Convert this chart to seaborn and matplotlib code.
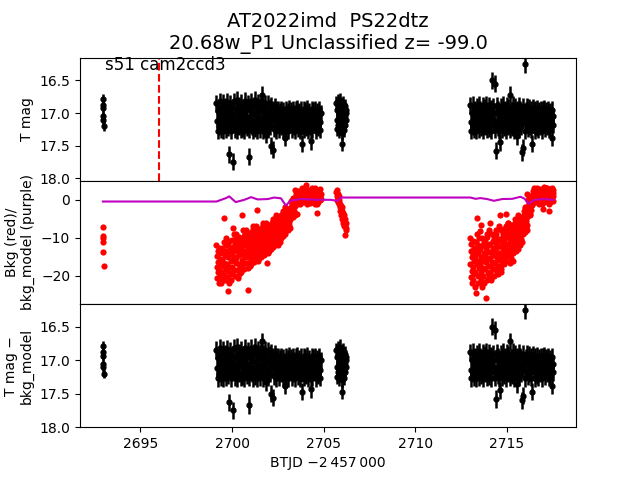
import numpy as np
import pandas as pd
import matplotlib
matplotlib.use("Agg")
import matplotlib.pyplot as plt
import seaborn as sns

# light curve segments: (start, end) of each stretch of cadences, BTJD - 2457000
seg_a = (2692.93, 2692.99)
seg_b = (2699.15, 2704.85)
seg_c = (2705.70, 2706.25)
seg_d = (2713.00, 2717.55)

# T mag
mag_a = [16.78, 16.88, 16.93, 17.05, 17.10, 17.20]
mag_b = [16.85, 17.12, 17.27, 16.97, 17.20, 16.82, 17.05, 17.25, 16.92, 17.14,
         17.27, 16.84, 17.00, 17.18, 16.90, 17.26, 17.08, 16.83, 17.22, 16.98,
         17.12, 17.63, 16.86, 17.27, 17.02, 16.93, 17.18, 17.75, 16.82, 17.10,
         17.25, 16.95, 17.15, 16.80, 17.27, 17.04, 16.88, 17.20, 16.97, 17.26,
         16.84, 17.10, 17.24, 16.92, 17.02, 17.27, 16.81, 17.16, 16.96, 17.23,
         17.06, 16.86, 17.67, 17.26, 16.94, 17.12, 16.82, 17.20, 17.00, 17.27,
         16.88, 17.14, 16.80, 17.24, 17.02, 16.92, 17.27, 17.08, 16.84, 17.18,
         16.96, 17.25, 16.82, 16.72, 17.10, 17.27, 16.90, 17.04, 17.22, 16.85,
         17.33, 16.98, 17.15, 16.86, 17.26, 17.04, 16.92, 17.20, 16.88, 17.50,
         17.10, 16.95, 17.56, 17.24, 16.90, 17.06, 17.27, 16.94, 17.15, 17.02,
         16.95, 17.26, 17.10, 16.98, 17.20, 16.94, 17.05, 17.27, 16.96, 17.16,
         17.02, 17.38, 16.94, 17.22, 17.08, 16.97, 17.27, 17.12, 16.93, 17.18,
         17.04, 16.96, 17.25, 17.10, 16.94, 17.20, 17.00, 17.27, 16.95, 17.14,
         17.06, 16.93, 17.24, 17.16, 16.97, 17.27, 17.02, 16.95, 17.20, 17.47,
         17.08, 16.94, 17.26, 17.12, 16.96, 17.22, 17.04, 16.93, 17.27, 17.15,
         16.98, 17.20, 17.06, 17.43, 16.94, 17.25, 17.10, 16.96, 17.18, 17.02,
         16.95, 17.27, 17.12, 16.97, 17.22, 17.05, 16.94, 17.26, 17.14, 17.00]
mag_c = [16.85, 17.10, 17.25, 16.95, 17.18, 16.82, 17.05, 17.28, 16.90, 17.15,
         17.00, 16.80, 17.22, 17.08, 16.88, 17.30, 17.47, 17.02, 16.92, 17.20,
         16.85, 17.12, 17.26, 16.96, 17.05, 16.90, 17.18, 17.00, 16.95, 17.10]
mag_d = [16.88, 17.14, 17.27, 17.00, 17.20, 16.87, 17.06, 17.26, 16.94, 17.12,
         17.27, 16.90, 17.02, 17.18, 16.87, 17.25, 17.08, 16.95, 17.22, 16.98,
         17.13, 16.88, 17.27, 17.04, 16.92, 17.20, 16.87, 17.10, 17.26, 16.98,
         17.15, 16.88, 17.24, 17.02, 16.93, 17.27, 17.08, 16.50, 16.90, 17.18,
         17.00, 16.55, 17.26, 17.58, 16.88, 17.12, 17.22, 16.95, 17.05, 17.27,
         17.45, 16.90, 17.16, 17.00, 17.26, 16.87, 17.10, 17.22, 16.95, 17.04,
         17.27, 16.88, 17.14, 17.20, 16.92, 17.02, 17.26, 16.72, 17.08, 16.96,
         17.22, 16.87, 17.12, 17.27, 17.00, 16.90, 17.18, 17.05, 16.94, 17.36,
         17.10, 16.88, 17.25, 17.02, 16.95, 17.20, 17.12, 17.60, 17.53, 16.90,
         17.06, 17.27, 16.25, 16.96, 17.16, 16.90, 17.24, 17.02, 16.92, 17.20,
         17.10, 16.94, 17.26, 17.04, 17.47, 16.92, 17.18, 17.00, 17.27, 16.95,
         17.14, 17.22, 16.93, 17.06, 17.26, 16.96, 17.12, 17.20, 16.94, 17.02,
         17.27, 16.95, 17.16, 17.08, 16.93, 17.24, 17.00, 16.96, 17.20, 17.12,
         16.94, 17.26, 17.04, 16.97, 17.22, 17.10, 17.38, 16.95, 17.18, 17.05]
err_a, err_b, err_c, err_d = 0.07, 0.13, 0.11, 0.13

# background flux (red points)
bkg_a = [-7.2, -9.6, -10.1, -11.0, -13.8, -17.3]
bkg_b = [-12, -17.7, -14.9, -20.6, -13.4, -19.1, -16.3, -22,
         -12.7, -18.4, -15.6, -21.3, -14.1, -19.9, -17.0, -13.0,
         -22, -15.7, -18.9, -12.6, -20.4, -14.1, -17.3, -4.8,
         -11.0, -16.5, -19.7, -13.4, -21.2, -14.9, -18.1, -11.8,
         -10, -16.9, -13.4, -20.3, -11.7, -18.6, -15.1, -24.1,
         -22, -10.9, -17.8, -14.3, -21.1, -12.6, -19.4, -16.0,
         -21, -14.1, -17.6, -10.7, -19.3, -12.4, -15.9, -7.4,
         -9, -15.0, -18.4, -11.6, -20.1, -13.3, -16.7, -9.9,
         -9, -15.3, -12.1, -18.4, -10.6, -20.5, -13.7, -20,
         -16.9, -9.8, -14.5, -11.4, -19.2, -12.9, -17.6, -10.2,
         -19, -12.7, -15.9, -4.0, -17.4, -11.1, -14.3, -8,
         -9.6, -18.2, -13.5, -16.6, -8.8, -12.0, -15.1, -10.3,
         -8, -13.7, -10.9, -16.6, -9.4, -23.7, -12.3, -18,
         -15.1, -8.7, -14.4, -11.6, -17.3, -10.1, -13.0, -16.0,
         -17, -11.3, -14.1, -8.4, -15.6, -9.9, -12.7, -7,
         -7.7, -16.3, -10.6, -13.4, -8.9, -14.9, -12.0, -15.9,
         -7, -12.1, -9.6, -14.7, -2.8, -13.4, -10.9, -16,
         -8.3, -15.3, -11.5, -7.6, -14.0, -10.2, -12.8, -8.9,
         -15, -9.9, -12.4, -7.3, -13.7, -8.6, -11.1, -6,
         -6.6, -14.4, -10.5, -13.0, -7.9, -11.8, -9.2, -14.0,
         -6, -10.6, -8.3, -12.9, -7.1, -16.7, -9.4, -14,
         -11.7, -6.6, -13.4, -8.9, -12.3, -7.7, -10.0, -11.1,
         -13, -8.4, -10.7, -6.1, -11.9, -7.3, -9.6, -5,
         -5.6, -12.4, -9.0, -11.3, -6.7, -10.2, -7.9, -12.0,
         -4, -8.6, -6.3, -10.9, -5.1, -9.7, -7.4, -12,
         -4.6, -11.4, -8.0, -10.3, -5.7, -9.1, -6.9, -11.0,
         -10, -6, -8, -4, -9, -5, -7, -3,
         -3.5, -9.5, -6.5, -8.5, -4.5, -7.5, -5.5, -9.0,
         -2, -5.4, -3.7, -7.1, -2.9, -6.3, -4.6, -8,
         -2.4, -7.6, -4.2, -6.7, -3.3, -5.8, -5.0, -7.4,
         -5, -1.9, -3.4, -0.3, -4.2, -1.1, -2.6, 0.5,
         0.1, -4.6, -2.2, -3.8, -0.7, -3.0, -1.5, -4.0,
         2.5, 0.5, 1.5, -0.5, 2.0, 0, -3.7, -1,
         2.2, -0.7, 1.2, 0.2, 1.8, -0.2, 0.8, 1.0,
         -1, 1.3, 0.1, 2.4, -0.4, 1.9, 0.7, 3,
         2.7, -0.7, 1.6, 0.4, 2.1, -0.1, 1.0, 2.9,
         3, 0.7, 1.9, -0.4, 3.9, 0.1, 1.3, -1,
         -0.7, 2.7, 0.4, 2.2, -0.1, 1.6, 1.0, 2.4,
         -0.8, 1.5, 0.3, 2.6, -0.2, 2.1, 0.9, 3.2,
         2.9, -0.5, 1.8, 0.6, 2.4, 0.0, 1.2, -1.0,
         3, 0.7, 1.9, -0.4, 2.4, -3.5, 1.3, -1, 2, 0.5,
         2.7, -0.7, 1.6, 0.4, 2.2, -0.1, 1.0, 2.9, 0.2, 1.4]
bkg_c = [2, 1, 2.5, 0, 1.5, -0.5, 1, -1, 0, -2,
         -1, -3, -1.5, -2.5, -4, -3, -5, -2, -4.5, -6,
         -3.5, -5.5, -7, -4, -6.5, -9.2, -5, -7.5, -6, -8]
bkg_d = [-10, -16.9, -13.4, -20.3, -11.7, -18.6, -15.1, -22,
         -21.1, -10.9, -17.8, -14.3, -19.4, -12.6, -16.0, -13.0,
         -23, -15, -19, -11, -24.5, -13, -17, -4.8,
         -9, -20, -14, -22, -12, -18, -16, -10,
         -8.3, -17, -13, -21, -6.6, -19, -15, -23,
         -22, -10, -18, -12, -20, -14, -16, -11,
         -22, -14.6, -18.3, -10.9, -25.9, -12.7, -16.4, -9,
         -9.9, -21.1, -15.5, -19.2, -11.8, -17.4, -13.6, -20.2,
         -8, -15.4, -11.7, -19.1, -6, -17.3, -13.6, -21,
         -20.1, -8.9, -16.4, -12.7, -18.2, -10.8, -14.5, -9.9,
         -20, -13.1, -16.6, -9.7, -18.3, -11.4, -14.9, -8,
         -8.9, -19.1, -12.3, -15.7, -10.6, -17.4, -14.0, -19.6,
         -7, -13.9, -10.4, -17.3, -4, -15.6, -12.1, -19,
         -18.1, -7.9, -14.7, -11.3, -16.4, -9.6, -13.0, -8.7,
         -17, -10.7, -13.9, -7.6, -15.4, -9.1, -12.3, -3.8,
         -6.8, -16.2, -11.5, -14.6, -8.3, -13.1, -9.9, -6.0,
         -6, -11.7, -8.9, -14.6, -7.4, -13.1, -10.3, -16.6,
         -15.3, -6.7, -12.4, -9.6, -13.9, -8.1, -11.0, -16.0,
         -14, -8.9, -11.4, -6.3, -12.7, -7.6, -10.1, -5,
         -5.6, -13.4, -9.5, -12.0, -7.0, -10.8, -8.2, -13.0,
         -4, -8.6, -6.3, -10.9, -5.1, -9.7, -7.4, -12,
         -11.4, -4.6, -9.1, -5.7, -10.3, -6.9, -8.0, -11.0,
         -9, -5, -7, -3, -8, -4, -6, -2,
         -2.5, -8.5, -5.5, -7.5, -3.5, -6.5, -4.5, -8.0,
         1.5, -1.6, -0.1, -3.2, 0.7, -2.4, -0.9, -4,
         -3.6, 1.1, -2.0, 0.3, -2.8, -0.5, -1.3, 0.9,
         -1, 1.3, 0.1, 2.4, -0.4, 1.9, 0.7, 3,
         2.7, -0.7, 1.6, 0.4, 2.1, -0.1, 1.0, 2.9,
         3.2, 0.8, 2.0, -0.4, 2.6, 0.2, 1.4, -1,
         -0.7, 2.9, 0.5, 2.3, -0.1, 1.7, 1.1, 2.0,
         -1, 1.6, 0.4, 2.9, -2.5, 2.2, 0.9, 3.5,
         3.2, -0.6, 1.9, 0.1, 2.6, -0.3, 1.3, 3.0,
         3.2, 0.8, 2.0, -0.4, 2.6, 0.2, 1.4, -1, -3, 1.8, 0.5, 2.4,
         -0.7, 2.9, 0.5, 2.3, -0.1, 1.7, 1.1, 3.0, -0.4, 1.9, 0.9, 2.6]

# background model (purple line)
model_t = [2692.95, 2699.15, 2699.67, 2699.85, 2700.2, 2700.67, 2701.04, 2701.4,
           2701.95, 2702.3, 2702.67, 2702.94, 2703.2, 2703.76, 2704.67, 2705.4,
           2705.76, 2705.94, 2706.25, 2713.02, 2713.3, 2713.56, 2713.93, 2714.3,
           2714.75, 2715.3, 2715.75, 2715.97, 2716.2, 2716.5, 2717.0, 2717.55]
model_v = [-0.45, -0.45, 0.45, 0.9, -0.6, 0.0, 0.7, 0.1,
           0.2, 0.6, 0.4, -1.5, -0.2, 0.2, 0.0, 0.0,
           -0.3, 0.6, 0.6, 0.6, 0.26, 0.45, 0.2, -0.26,
           0.2, 0.26, 0.8, 0.3, -1.05, 0.0, 0.2, 0.0]

peak_t = 2696.0
label_txt = "s51 cam2ccd3"

segs = [(seg_a, mag_a, err_a, bkg_a), (seg_b, mag_b, err_b, bkg_b),
        (seg_c, mag_c, err_c, bkg_c), (seg_d, mag_d, err_d, bkg_d)]
lc_parts, bg_parts = [], []
for (t0, t1), m, e, b in segs:
    lc_parts.append(pd.DataFrame({"t": np.linspace(t0, t1, len(m)), "mag": m, "err": e}))
    bg_parts.append(pd.DataFrame({"t": np.linspace(t0, t1, len(b)), "bkg": b}))
lc = pd.concat(lc_parts, ignore_index=True)
bg = pd.concat(bg_parts, ignore_index=True)
model = pd.DataFrame({"t": model_t, "bkg_model": model_v})

fig, axes = plt.subplots(3, 1, sharex=True, figsize=(6.4, 4.8))
plt.subplots_adjust(hspace=0)

# top: light curve
ax = axes[0]
ax.errorbar(lc["t"], lc["mag"], yerr=lc["err"], fmt="o", color="k", ms=3.5,
            elinewidth=1.8, capsize=0)
ax.axvline(peak_t, color="r", ls="--", lw=1.5)
ax.text(0.05, 0.9, label_txt, transform=ax.transAxes, fontsize=12)
ax.set_ylim(18.04, 16.15)
ax.set_ylabel("T mag")
ax.set_title("AT2022imd  PS22dtz\n20.68w_P1 Unclassified z= -99.0", fontsize=14)
ax.tick_params(axis="x", bottom=False)

# middle: background
ax = axes[1]
sns.scatterplot(data=bg, x="t", y="bkg", color="r", s=20, linewidth=0, ax=ax)
sns.lineplot(data=model, x="t", y="bkg_model", color="m", lw=1.5,
             estimator=None, sort=False, ax=ax)
ax.set_ylim(-27.4, 5.0)
ax.set_ylabel("Bkg (red)/\nbkg_model (purple)")
ax.set_xlabel("")
ax.tick_params(axis="x", bottom=False)

# bottom: background-corrected light curve
ax = axes[2]
ax.errorbar(lc["t"], lc["mag"], yerr=lc["err"], fmt="o", color="k", ms=3.5,
            elinewidth=1.8, capsize=0)
ax.set_ylim(18.0, 16.16)
ax.set_ylabel("T mag \u2212\nbkg_model")
ax.set_xlabel("BTJD \u22122\u2009457\u2009000")
ax.set_xticks([2695, 2700, 2705, 2710, 2715])

plt.savefig("out.png", dpi=100)
